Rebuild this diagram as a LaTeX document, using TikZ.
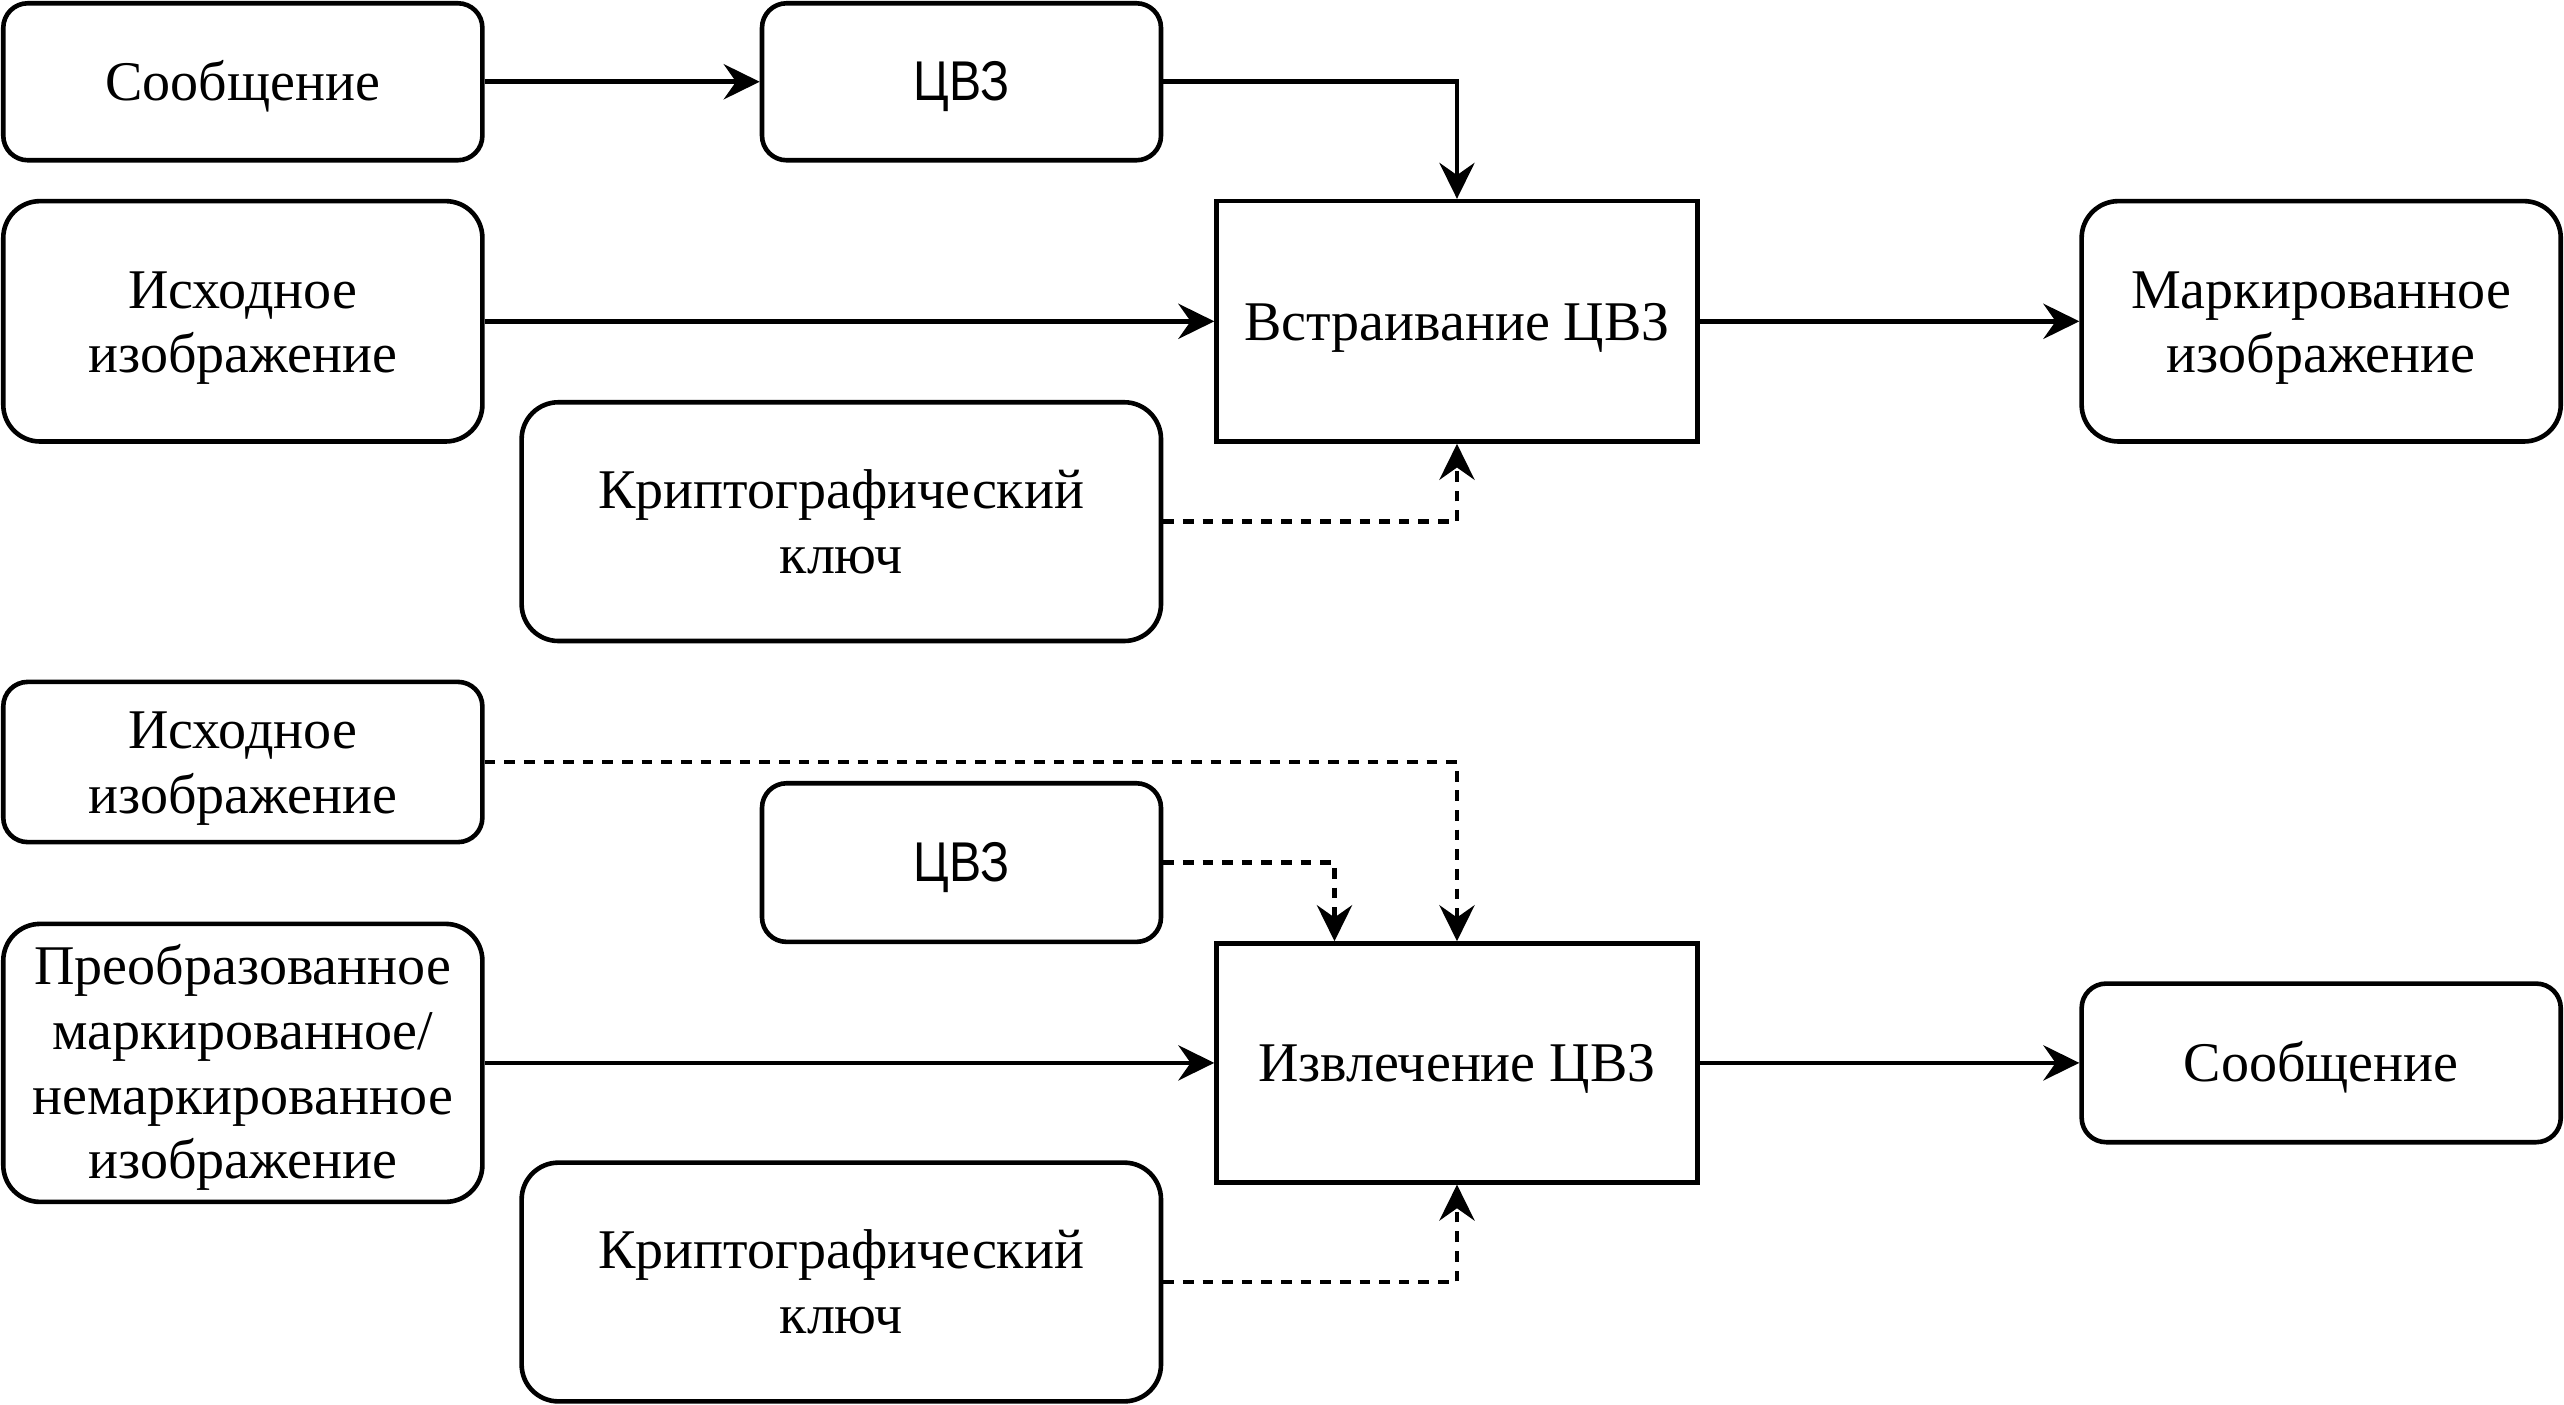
\documentclass[tikz,border=0pt]{standalone}
\usepackage{fontspec}
\setmainfont{Liberation Serif}
\newfontfamily\arialfont[FakeStretch=0.86]{Liberation Sans}
\usetikzlibrary{arrows.meta}

% text sits a little low in the boxes
\newcommand{\blocktext}[1]{\raisebox{-0.075cm}[\height][\depth]{\begin{tabular}{@{}c@{}}#1\end{tabular}}}

\tikzset{
  block/.style={draw, line width=1.6pt, inner sep=0pt,
    font=\fontsize{19.5}{22.5}\selectfont},
  soft block/.style={block, rounded corners=0.3cm},
  tall block/.style={block, rounded corners=0.45cm},
  sans/.style={font=\arialfont\fontsize{19.5}{22.5}\selectfont},
  flow/.style={line width=1.6pt, -{Stealth[length=0.44cm,width=0.43cm,inset=0.15cm]}},
  hint/.style={flow, dash pattern=on 0.13cm off 0.11cm}
}

\begin{document}
\begin{tikzpicture}[x=1cm, y=1cm]

      \useasboundingbox (0,0) rectangle (31.36,-17.18);

      % embedding
      \node [soft block, minimum width=5.86cm, minimum height=1.92cm] (msg1) at (2.97,-1.00) {\blocktext{Сообщение}};
      \node [soft block, sans, minimum width=4.88cm, minimum height=1.92cm] (wm1) at (11.76,-1.00) {\blocktext{ЦВЗ}};
      \node [tall block, minimum width=5.86cm, minimum height=2.94cm] (img1) at (2.97,-3.93) {\blocktext{Исходное\\изображение}};
      \node [block, minimum width=5.88cm, minimum height=2.94cm] (embed) at (17.82,-3.93) {\blocktext{Встраивание ЦВЗ}};
      \node [tall block, minimum width=5.86cm, minimum height=2.94cm] (marked) at (28.39,-3.93) {\blocktext{Маркированное\\изображение}};
      \node [tall block, minimum width=7.82cm, minimum height=2.92cm] (key1) at (10.29,-6.38) {\blocktext{Криптографический\\ключ}};

      % extraction
      \node [soft block, minimum width=5.86cm, minimum height=1.96cm] (img2) at (2.97,-9.32) {\blocktext{Исходное\\изображение}};
      \node [soft block, sans, minimum width=4.88cm, minimum height=1.94cm] (wm2) at (11.76,-10.55) {\blocktext{ЦВЗ}};
      \node [tall block, minimum width=5.86cm, minimum height=3.40cm] (conv) at (2.97,-13.00) {\blocktext{Преобразованное\\маркированное/\\немаркированное\\изображение}};
      \node [block, minimum width=5.88cm, minimum height=2.92cm] (extract) at (17.82,-13.00) {\blocktext{Извлечение ЦВЗ}};
      \node [soft block, minimum width=5.86cm, minimum height=1.94cm] (msg2) at (28.39,-13.00) {\blocktext{Сообщение}};
      \node [tall block, minimum width=7.82cm, minimum height=2.92cm] (key2) at (10.29,-15.68) {\blocktext{Криптографический\\ключ}};

      \foreach \a/\b in {msg1/wm1, img1/embed, embed/marked, conv/extract, extract/msg2}
      \draw [flow] (\a) -- (\b);

      \draw [flow] (wm1.east) -| (embed.north);
      \draw [hint] (key1.east) -| (embed.south);

      \draw [hint] (img2.east) -| (extract.north);
      \draw [hint] (wm2.east) -| ([xshift=1.47cm]extract.north west);
      \draw [hint] (key2.east) -| (extract.south);

    \end{tikzpicture}
\end{document}
